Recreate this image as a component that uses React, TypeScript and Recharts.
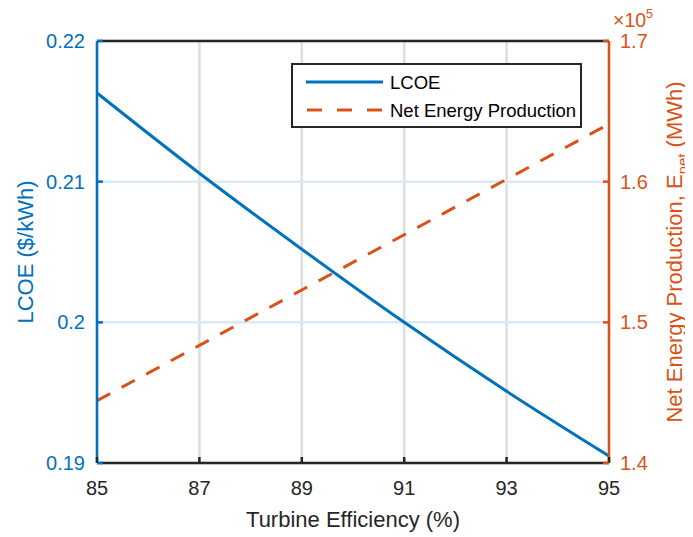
import React from 'react';
import { ComposedChart, Line, XAxis, YAxis, CartesianGrid, ReferenceLine, Legend } from 'recharts';

const efficiency = [85, 87, 89, 91, 93, 95];
const lcoe = [0.2163, 0.2106, 0.2052, 0.2, 0.1951, 0.1905];
const netEnergy = [144430, 148360, 152300, 156230, 160170, 164100];
const xTicks = [85, 87, 89, 91, 93, 95];
const lcoeTicks = [0.19, 0.2, 0.21, 0.22];
const energyTicks = [140000, 150000, 160000, 170000];
const seriesNames = ['LCOE', 'Net Energy Production'];

const data = efficiency.map((e, i) => ({ eff: e, lcoe: lcoe[i], energy: netEnergy[i] }));

const BLUE = '#0072BD';
const ORANGE = '#D95319';
const AXIS = '#262626';
const FONT = '"Liberation Sans", Arial, Helvetica, sans-serif';

const XTick = (props: any) => {
  const { x, y, payload } = props;
  return (
    <g>
      <line x1={x} x2={x} y1={y} y2={y - 6} stroke={AXIS} strokeWidth={2.5} />
      <text x={x} y={y + 25} dy="0.355em" textAnchor="middle" fill={AXIS} fontSize={20} fontFamily={FONT}>
        {payload.value}
      </text>
    </g>
  );
};

const LeftTick = (props: any) => {
  const { x, y, payload } = props;
  return (
    <g>
      <line x1={x} x2={x + 6} y1={y} y2={y} stroke={BLUE} strokeWidth={2.5} />
      <text x={x - 12} y={y} dy="0.355em" textAnchor="end" fill={BLUE} fontSize={20} fontFamily={FONT}>
        {String(payload.value)}
      </text>
    </g>
  );
};

const RightTick = (props: any) => {
  const { x, y, payload } = props;
  return (
    <g>
      <line x1={x} x2={x - 6} y1={y} y2={y} stroke={ORANGE} strokeWidth={2.5} />
      <text x={x + 11} y={y} dy="0.355em" textAnchor="start" fill={ORANGE} fontSize={20} fontFamily={FONT}>
        {String(payload.value / 100000)}
      </text>
    </g>
  );
};

const LeftLabel = (props: any) => {
  const vb = props.viewBox || { x: 0, y: 33, width: 89, height: 422 };
  const cx = vb.x + 25;
  const cy = vb.y + vb.height / 2;
  return (
    <text x={cx} y={cy} transform={`rotate(-90, ${cx}, ${cy})`} textAnchor="middle" fill={BLUE} fontSize={22} fontFamily={FONT}>
      LCOE ($/kWh)
    </text>
  );
};

const RightLabel = (props: any) => {
  const vb = props.viewBox || { x: 601, y: 33, width: 84, height: 422 };
  const cx = vb.x + 73;
  const cy = vb.y + vb.height / 2;
  return (
    <g>
      <text x={cx} y={cy} transform={`rotate(-90, ${cx}, ${cy})`} textAnchor="middle" fill={ORANGE} fontSize={22} fontFamily={FONT}>
        <tspan>Net Energy Production, E</tspan>
        <tspan fontSize={15} dy={6}>net</tspan>
        <tspan dy={-6}> (MWh)</tspan>
      </text>
      <text x={vb.x + 4} y={vb.y - 14} fill={ORANGE} fontSize={19.5} fontFamily={FONT}>
        <tspan>×10</tspan>
        <tspan fontSize={12.5} dy={-9}>5</tspan>
      </text>
    </g>
  );
};

const XLabel = (props: any) => {
  const vb = props.viewBox || { x: 89, y: 455, width: 512, height: 74 };
  return (
    <text x={vb.x + vb.width / 2} y={vb.y + 64} textAnchor="middle" fill={AXIS} fontSize={22} fontFamily={FONT}>
      Turbine Efficiency (%)
    </text>
  );
};

const LegendBox = () => (
  <div style={{ width: 291, height: 65, boxSizing: 'border-box', border: `2.5px solid ${AXIS}`, background: '#fff' }}>
    <svg width={286} height={60} style={{ display: 'block' }}>
      <line x1={13} x2={90} y1={17} y2={17} stroke={BLUE} strokeWidth={3} />
      <text x={97} y={17} dy="0.355em" fill="#000" fontSize={18.5} fontFamily={FONT}>{seriesNames[0]}</text>
      <line x1={14} x2={90} y1={45} y2={45} stroke={ORANGE} strokeWidth={3} strokeDasharray="15 15" />
      <text x={97} y={45} dy="0.355em" fill="#000" fontSize={18.5} fontFamily={FONT}>{seriesNames[1]}</text>
    </svg>
  </div>
);

export default function App() {
  return (
    <div style={{ width: 685, height: 529 }}>
      <ComposedChart width={685} height={529} data={data} margin={{ top: 33, right: 0, bottom: 0, left: 0 }}>
        <CartesianGrid horizontal={false} stroke="#dedede" strokeWidth={2.5} yAxisId="left" />
        <CartesianGrid vertical={false} stroke="#d9eaf5" strokeWidth={2.5} yAxisId="left" />
        <XAxis
          dataKey="eff"
          type="number"
          domain={[85, 95]}
          ticks={xTicks}
          interval={0}
          height={74}
          tickSize={0}
          tickMargin={0}
          tick={XTick}
          tickLine={false}
          axisLine={{ stroke: AXIS, strokeWidth: 2.5 }}
          label={<XLabel />}
        />
        <YAxis
          yAxisId="left"
          orientation="left"
          width={89}
          type="number"
          domain={[0.19, 0.22]}
          ticks={lcoeTicks}
          interval={0}
          tickSize={0}
          tickMargin={0}
          tick={LeftTick}
          tickLine={false}
          axisLine={{ stroke: BLUE, strokeWidth: 2.5 }}
          label={<LeftLabel />}
        />
        <YAxis
          yAxisId="right"
          orientation="right"
          width={84}
          type="number"
          domain={[140000, 170000]}
          ticks={energyTicks}
          interval={0}
          tickSize={0}
          tickMargin={0}
          tick={RightTick}
          tickLine={false}
          axisLine={{ stroke: ORANGE, strokeWidth: 2.5 }}
          label={<RightLabel />}
        />
        <ReferenceLine yAxisId="left" y={0.22} stroke={AXIS} strokeWidth={2.5} />
        <Line yAxisId="left" type="monotone" dataKey="lcoe" name={seriesNames[0]} stroke={BLUE} strokeWidth={3} dot={false} isAnimationActive={false} />
        <Line yAxisId="right" type="linear" dataKey="energy" name={seriesNames[1]} stroke={ORANGE} strokeWidth={3} strokeDasharray="15 13" dot={false} isAnimationActive={false} />
        <Legend
          layout="horizontal"
          verticalAlign="middle"
          align="center"
          content={LegendBox}
          wrapperStyle={{ left: 283, top: 55, width: 291, height: 65 }}
        />
      </ComposedChart>
    </div>
  );
}
